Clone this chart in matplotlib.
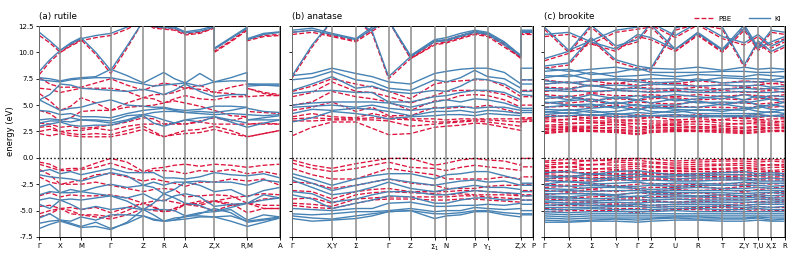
import matplotlib
matplotlib.use("Agg")
import matplotlib.pyplot as plt
from matplotlib.lines import Line2D

# ---------------- rutile ----------------
rutile_k = [0, 10.5, 21, 31.4, 41.7, 56.5, 71.4, 87.7, 104, 114.2, 124.4, 135.2,
            146, 160.5, 175, 175, 191.5, 208, 208, 224.4, 240.7]
rutile_ticks = [0, 21, 41.7, 71.4, 104, 124.4, 146, 175, 208, 240.7]
rutile_labels = ["Γ", "X", "M", "Γ", "Z", "R", "A", "Z,X", "R,M", "A"]

rutile_ki = [
    [11.9, 11.1, 10.2, 10.8, 11.3, 11.6, 11.8, 12.4, 13.0, 12.45, 12.35, 12.3, 11.85, 12.0, 12.4, 10.3, 11.3, 12.3, 11.2, 11.7, 11.9],
    [8.2, 9.3, 10.2, 10.9, 11.4, 10.0, 8.3, 10.6, 13.0, 12.6, 12.45, 12.4, 11.95, 12.15, 12.5, 10.4, 11.4, 12.4, 11.3, 11.8, 11.95],
    [7.6, 7.5, 7.3, 7.5, 7.6, 7.7, 8.4, 7.8, 7.1, 7.6, 8.1, 7.5, 7.1, 8.0, 7.2, 7.2, 7.6, 8.1, 7.0, 7.0, 7.0],
    [7.4, 7.3, 7.2, 7.4, 7.5, 7.6, 7.6, 7.3, 7.0, 6.8, 6.9, 7.0, 7.1, 6.8, 7.2, 7.2, 7.3, 7.3, 7.0, 6.9, 6.9],
    [5.5, 6.0, 7.0, 6.9, 6.6, 6.5, 6.4, 6.3, 6.5, 6.3, 6.0, 6.4, 7.0, 6.3, 5.8, 5.8, 6.0, 6.0, 6.8, 6.9, 6.8],
    [5.5, 5.0, 4.5, 4.7, 4.8, 5.2, 5.5, 5.0, 4.9, 4.8, 4.8, 4.6, 4.5, 4.6, 4.9, 4.9, 4.9, 4.8, 4.7, 4.4, 4.3],
    [4.5, 4.4, 4.1, 4.2, 3.9, 3.9, 3.8, 4.2, 4.5, 4.6, 4.7, 4.5, 4.3, 4.4, 4.3, 4.3, 4.5, 4.8, 4.1, 4.0, 4.1],
    [3.6, 3.7, 3.6, 3.8, 3.6, 3.6, 3.5, 4.0, 4.1, 4.3, 4.4, 4.4, 4.3, 4.2, 4.1, 4.1, 4.2, 4.1, 3.6, 3.8, 4.0],
    [3.3, 3.5, 3.5, 3.4, 3.6, 3.5, 3.3, 3.6, 4.1, 3.9, 3.6, 3.3, 3.6, 3.8, 3.9, 3.9, 3.6, 3.3, 3.6, 3.6, 3.6],
    [3.0, 3.2, 3.4, 3.1, 3.0, 3.1, 3.1, 3.5, 4.0, 3.3, 3.0, 3.3, 3.6, 3.4, 3.9, 3.9, 3.4, 2.9, 2.9, 3.3, 3.6],
    [-1.3, -1.1, -1.5, -1.3, -1.6, -1.3, -1.0, -1.4, -1.4, -1.4, -1.9, -1.9, -2.0, -1.8, -1.4, -1.4, -1.6, -1.7, -1.7, -1.5, -1.9],
    [-1.6, -1.8, -1.9, -2.0, -2.2, -1.8, -1.4, -1.7, -2.6, -2.3, -2.6, -2.3, -2.3, -2.2, -2.3, -2.3, -2.3, -2.6, -2.6, -2.1, -2.3],
    [-2.8, -2.5, -3.3, -3.0, -3.2, -2.8, -2.5, -2.8, -2.6, -2.8, -3.4, -3.0, -2.3, -2.6, -3.2, -3.2, -3.0, -3.7, -3.7, -3.1, -2.8],
    [-3.5, -3.2, -3.3, -3.3, -3.2, -3.4, -3.6, -3.8, -3.4, -3.9, -4.1, -3.6, -3.4, -3.7, -4.6, -4.6, -4.4, -4.3, -4.3, -3.5, -3.8],
    [-4.0, -3.8, -4.0, -3.9, -4.0, -3.8, -3.6, -4.1, -4.9, -4.3, -3.4, -3.8, -4.3, -4.5, -5.1, -5.1, -4.7, -4.3, -4.3, -4.0, -3.8],
    [-4.4, -4.8, -4.0, -4.4, -4.9, -4.6, -4.9, -4.7, -4.9, -4.9, -4.9, -5.0, -5.5, -5.2, -5.1, -5.1, -4.9, -5.9, -5.9, -5.4, -5.6],
    [-5.7, -5.3, -5.9, -6.0, -5.6, -5.9, -5.4, -5.4, -5.5, -5.8, -6.0, -5.9, -5.5, -5.5, -5.6, -5.6, -5.5, -6.0, -6.0, -5.8, -5.6],
    [-6.2, -6.0, -5.9, -6.2, -6.5, -6.1, -6.7, -6.2, -5.5, -5.9, -6.0, -5.9, -5.8, -5.6, -5.6, -5.6, -6.0, -6.5, -6.5, -6.1, -5.7],
    [-6.7, -6.3, -6.0, -6.3, -6.6, -6.5, -6.8, -6.1, -4.9, -5.4, -6.0, -5.7, -5.6, -5.3, -4.8, -4.8, -5.2, -6.1, -6.1, -5.9, -5.7],
]
rutile_pbe = [
    [11.6, 10.9, 10.0, 10.6, 11.1, 11.4, 11.6, 12.2, 13.0, 12.3, 12.2, 12.1, 11.65, 11.8, 12.3, 10.0, 11.0, 12.1, 11.1, 11.5, 11.6],
    [7.9, 9.1, 10.0, 10.7, 11.2, 9.8, 8.0, 10.4, 13.0, 12.4, 12.3, 12.2, 11.75, 11.9, 12.35, 10.1, 11.1, 12.2, 11.2, 11.6, 11.7],
    [7.6, 7.0, 6.7, 6.7, 6.7, 7.1, 7.5, 6.9, 6.4, 6.8, 7.1, 6.9, 6.6, 6.9, 6.2, 6.2, 6.7, 7.0, 6.6, 6.1, 5.9],
    [6.6, 6.5, 6.2, 6.4, 6.6, 6.6, 6.6, 6.3, 5.7, 6.0, 6.0, 6.2, 6.6, 6.5, 6.2, 6.2, 6.1, 5.9, 6.6, 6.2, 6.0],
    [6.1, 5.4, 4.5, 4.9, 5.7, 5.2, 4.5, 5.2, 5.7, 5.6, 5.2, 5.6, 5.9, 5.6, 5.5, 5.5, 5.8, 5.8, 5.8, 5.9, 5.9],
    [4.5, 4.2, 3.5, 3.8, 4.4, 4.5, 4.5, 4.8, 4.9, 5.0, 5.2, 5.4, 5.2, 4.9, 4.5, 4.5, 4.0, 3.9, 4.4, 4.3, 4.2],
    [3.3, 3.2, 2.9, 3.0, 2.8, 2.9, 3.1, 3.4, 3.8, 3.7, 3.2, 3.3, 3.2, 3.5, 3.8, 3.8, 3.5, 3.9, 3.2, 3.3, 3.2],
    [2.9, 3.0, 2.5, 2.6, 2.6, 2.8, 2.6, 3.0, 3.2, 3.2, 3.2, 3.2, 3.2, 3.4, 3.2, 3.2, 3.2, 3.2, 3.2, 3.2, 3.2],
    [2.5, 2.7, 2.5, 2.3, 2.2, 2.3, 2.2, 2.6, 3.0, 2.5, 2.0, 2.3, 2.6, 2.7, 3.0, 3.0, 2.6, 2.0, 2.0, 2.3, 2.6],
    [2.3, 2.1, 2.3, 2.1, 2.0, 2.0, 2.0, 2.3, 2.7, 2.3, 2.0, 2.2, 2.3, 2.4, 2.7, 2.7, 2.3, 2.0, 2.0, 2.3, 2.6],
    [-0.4, -0.6, -1.1, -1.0, -1.0, -0.5, -0.05, -0.4, -1.3, -1.0, -0.9, -0.7, -0.6, -0.8, -0.6, -0.6, -0.7, -0.9, -0.9, -0.7, -0.6],
    [-0.6, -0.9, -1.2, -1.2, -1.1, -0.9, -0.5, -1.0, -1.4, -1.2, -1.2, -1.3, -1.5, -1.2, -1.3, -1.3, -1.1, -1.5, -1.5, -1.3, -1.6],
    [-1.1, -1.6, -2.5, -2.3, -2.1, -1.6, -1.5, -1.8, -2.2, -2.0, -2.2, -2.4, -2.7, -2.3, -2.3, -2.3, -2.0, -2.2, -2.2, -2.0, -2.6],
    [-1.8, -2.3, -2.5, -2.5, -2.5, -2.3, -2.6, -2.9, -3.2, -3.0, -2.9, -3.0, -3.7, -3.6, -3.5, -3.5, -3.6, -4.3, -4.3, -3.9, -3.8],
    [-3.6, -3.3, -3.7, -3.5, -3.6, -3.6, -3.5, -3.8, -4.3, -4.1, -4.0, -4.2, -4.4, -4.1, -4.1, -4.1, -4.3, -5.2, -5.2, -4.8, -4.8],
    [-4.6, -4.5, -4.8, -4.7, -4.9, -4.7, -5.2, -4.7, -4.3, -4.6, -5.1, -4.8, -4.4, -4.5, -4.1, -4.1, -4.5, -4.3, -4.3, -4.5, -4.5],
    [-5.3, -5.0, -4.8, -5.0, -5.4, -5.4, -5.6, -5.0, -4.3, -4.7, -5.1, -5.0, -4.4, -4.3, -4.1, -4.1, -3.8, -3.6, -3.6, -3.4, -3.5],
    [-5.6, -5.3, -4.8, -5.3, -5.4, -5.6, -5.8, -5.4, -4.8, -5.0, -5.1, -4.8, -4.4, -4.6, -5.0, -5.0, -4.5, -4.3, -4.3, -4.8, -4.8],
]

# ---------------- anatase ----------------
anatase_k = [0, 19.8, 39.7, 63.7, 80, 96.4, 118.4, 142.4, 154.4, 168.5, 182.7, 195.7, 212.3, 229, 229, 241]
anatase_ticks = [0, 39.7, 63.7, 96.4, 118.4, 142.4, 154.4, 182.7, 195.7, 229, 241]
anatase_labels = ["Γ", "X,Y", "Σ", "Γ", "Z", "Σ$_1$", "N", "P", "Y$_1$", "Z,X", "P"]

anatase_ki = [
    [12.1, 12.3, 11.8, 11.3, 12.4, 13.0, 9.7, 11.2, 11.4, 11.8, 12.1, 11.9, 11.0, 9.7, 12.1, 12.1],
    [11.9, 12.1, 11.7, 11.2, 12.2, 13.0, 9.6, 11.1, 11.2, 11.6, 12.0, 11.8, 10.9, 9.6, 12.0, 12.0],
    [7.8, 10.7, 13.0, 13.0, 12.0, 7.7, 9.6, 11.0, 11.1, 11.5, 11.9, 11.7, 10.7, 9.7, 11.9, 11.9],
    [7.8, 8.0, 8.5, 8.0, 7.7, 7.2, 7.0, 8.0, 8.2, 8.4, 8.5, 8.5, 8.1, 7.0, 8.5, 8.5],
    [7.4, 7.6, 8.2, 7.4, 7.2, 6.6, 6.4, 7.4, 7.2, 7.6, 8.3, 7.7, 7.5, 6.6, 7.4, 7.4],
    [6.4, 7.0, 7.7, 6.6, 6.8, 6.3, 6.1, 6.4, 6.3, 6.8, 7.5, 7.4, 7.0, 6.1, 7.0, 7.0],
    [6.1, 6.3, 6.4, 6.2, 6.2, 5.3, 5.3, 5.8, 5.9, 6.2, 6.4, 6.4, 6.2, 5.5, 6.3, 6.3],
    [5.0, 5.2, 5.3, 5.3, 5.3, 5.2, 4.8, 5.3, 5.5, 5.3, 5.6, 5.5, 5.2, 4.7, 6.0, 5.9],
    [4.8, 4.9, 5.0, 4.8, 5.0, 4.7, 4.5, 4.7, 4.8, 4.9, 4.7, 4.8, 4.8, 4.5, 4.7, 4.7],
    [4.2, 4.6, 4.5, 4.7, 4.6, 4.4, 4.0, 4.4, 4.4, 4.5, 4.3, 4.5, 4.4, 4.2, 4.5, 4.5],
    [3.4, 3.8, 4.4, 4.2, 4.0, 3.7, 3.9, 4.0, 4.1, 4.1, 4.0, 4.2, 4.1, 4.0, 4.3, 4.3],
    [-1.5, -2.0, -2.6, -2.0, -1.7, -1.5, -1.5, -2.0, -1.6, -1.5, -1.3, -1.3, -1.7, -2.1, -2.4, -2.4],
    [-1.8, -2.4, -3.1, -2.6, -2.3, -2.0, -2.3, -2.6, -2.4, -2.2, -2.1, -2.3, -2.2, -2.6, -2.6, -2.6],
    [-2.1, -2.8, -3.5, -3.2, -2.8, -2.3, -2.9, -3.2, -3.0, -2.8, -2.6, -2.8, -2.8, -3.0, -3.2, -3.2],
    [-3.2, -3.4, -4.2, -3.9, -3.5, -3.2, -3.2, -3.5, -3.5, -3.3, -3.1, -3.2, -3.3, -3.4, -3.6, -3.6],
    [-3.5, -3.9, -4.8, -4.3, -4.0, -3.6, -3.7, -4.3, -4.3, -4.0, -3.8, -3.8, -4.0, -3.9, -4.0, -4.0],
    [-4.8, -4.9, -5.0, -4.8, -4.8, -4.3, -4.2, -4.6, -4.6, -4.5, -4.5, -4.4, -4.5, -4.3, -4.4, -4.4],
    [-5.3, -5.4, -5.3, -5.1, -5.1, -5.0, -4.8, -5.1, -5.0, -5.0, -4.7, -4.8, -4.9, -4.8, -5.0, -5.0],
    [-5.5, -5.7, -5.8, -5.5, -5.3, -5.1, -5.0, -5.3, -5.3, -5.2, -5.0, -5.0, -5.2, -5.3, -5.3, -5.3],
    [-5.75, -6.0, -5.9, -5.75, -5.5, -5.1, -5.0, -5.75, -5.5, -5.4, -5.1, -5.1, -5.4, -5.6, -5.4, -5.4],
]
anatase_pbe = [
    [11.9, 12.1, 11.6, 11.1, 12.2, 13.0, 9.5, 11.0, 11.2, 11.6, 11.9, 11.7, 10.8, 9.5, 11.9, 11.9],
    [11.7, 11.9, 11.5, 11.0, 12.0, 13.0, 9.4, 10.8, 11.0, 11.4, 11.8, 11.6, 10.7, 9.4, 11.8, 11.8],
    [7.6, 10.5, 13.0, 13.0, 11.8, 7.5, 9.4, 10.7, 10.9, 11.3, 11.7, 11.5, 10.5, 9.5, 11.7, 11.7],
    [6.3, 6.8, 7.5, 7.0, 6.7, 6.3, 5.6, 7.0, 7.2, 7.3, 7.4, 7.4, 6.8, 5.8, 7.4, 7.4],
    [5.8, 6.2, 7.2, 6.3, 6.2, 5.8, 5.2, 5.9, 6.3, 6.4, 6.4, 6.3, 6.0, 5.3, 6.4, 6.4],
    [5.0, 5.3, 6.3, 5.8, 5.6, 5.3, 4.5, 5.4, 5.5, 5.9, 6.0, 5.9, 5.5, 4.8, 5.8, 5.8],
    [4.5, 4.8, 5.3, 4.4, 4.8, 4.0, 4.0, 4.8, 4.7, 4.8, 4.8, 5.0, 4.6, 4.2, 5.0, 5.0],
    [3.9, 4.2, 3.9, 3.8, 4.2, 3.9, 3.7, 3.7, 3.6, 3.7, 3.7, 3.7, 3.7, 3.7, 3.8, 3.8],
    [3.7, 3.8, 3.7, 3.7, 3.8, 3.7, 3.6, 3.4, 3.4, 3.5, 3.6, 3.6, 3.5, 3.4, 3.7, 3.7],
    [3.5, 3.5, 3.6, 3.6, 3.6, 3.5, 3.0, 3.2, 3.3, 3.4, 3.5, 3.4, 3.2, 3.0, 3.6, 3.6],
    [2.1, 2.9, 3.4, 3.4, 2.8, 2.2, 2.3, 2.9, 3.0, 3.1, 3.3, 3.2, 2.9, 2.6, 3.4, 3.5],
    [-0.2, -0.7, -1.0, -0.55, -0.3, -0.05, -0.05, -0.7, -0.5, -0.2, -0.05, -0.2, -0.3, -0.7, -0.05, -0.05],
    [-0.5, -1.0, -1.3, -1.0, -0.7, -0.4, -0.9, -1.0, -1.2, -0.9, -0.7, -0.85, -1.0, -1.2, -0.85, -0.85],
    [-1.0, -1.6, -2.0, -2.0, -1.5, -1.0, -1.3, -1.6, -2.0, -2.0, -2.0, -2.0, -1.8, -2.0, -1.8, -1.8],
    [-2.3, -2.4, -2.9, -2.6, -2.3, -2.0, -2.4, -2.6, -2.9, -2.9, -2.9, -2.7, -2.6, -2.6, -2.5, -2.5],
    [-3.1, -3.2, -3.9, -3.2, -3.0, -2.9, -3.2, -3.2, -3.2, -3.1, -3.1, -3.2, -3.3, -3.5, -3.1, -3.1],
    [-3.9, -3.8, -4.3, -3.5, -3.3, -3.2, -3.3, -3.4, -3.5, -3.4, -3.5, -3.5, -3.5, -3.6, -3.5, -3.5],
    [-4.3, -4.4, -4.6, -3.9, -3.8, -3.7, -3.7, -3.7, -3.7, -3.6, -3.6, -3.7, -3.8, -3.9, -3.6, -3.6],
    [-4.5, -4.7, -4.8, -4.3, -4.0, -3.9, -3.9, -4.0, -4.0, -3.9, -3.9, -4.0, -4.1, -4.2, -4.0, -4.0],
]

# ---------------- brookite ----------------
brookite_k = [0, 24.4, 46.7, 71.4, 93.4, 106.7, 131, 153.4, 178, 200, 213.7, 227, 240.7]
brookite_ticks = brookite_k
brookite_labels = ["Γ", "X", "Σ", "Y", "Γ", "Z", "U", "R", "T", "Z,Y", "T,U", "X,Σ", "R"]

brookite_ki = [
    [12.4, 10.2, 11.1, 12.1, 12.4, 12.6, 10.3, 11.9, 10.3, 12.6, 10.5, 12.1, 11.9],
    [11.7, 11.9, 11.0, 10.3, 11.7, 11.4, 10.3, 11.8, 10.2, 12.3, 10.4, 11.0, 11.5],
    [9.4, 10.1, 12.6, 10.6, 11.2, 12.8, 11.6, 12.8, 11.5, 10.9, 11.7, 10.6, 11.2],
    [8.7, 9.0, 11.4, 9.3, 8.7, 8.5, 12.3, 12.9, 12.4, 8.8, 11.1, 10.1, 10.7],
    [8.5, 8.2, 8.4, 8.6, 8.3, 8.5, 8.4, 8.6, 8.3, 8.6, 8.4, 8.5, 8.4],
    [8.2, 8.4, 7.9, 8.1, 8.5, 8.1, 8.1, 8.1, 8.2, 8.2, 8.1, 8.1, 8.2],
    [7.8, 7.7, 8.1, 7.7, 7.8, 7.9, 7.7, 7.9, 7.8, 7.7, 7.9, 7.8, 7.7],
    [7.6, 7.9, 7.4, 7.5, 7.4, 7.5, 7.5, 7.3, 7.6, 7.5, 7.5, 7.4, 7.6],
    [7.3, 7.1, 7.3, 7.4, 7.2, 7.1, 7.2, 7.5, 7.1, 7.2, 7.2, 7.3, 7.2],
    [7.0, 7.2, 6.8, 6.9, 6.8, 7.0, 6.9, 6.8, 6.9, 6.8, 6.9, 6.7, 6.8],
    [6.6, 6.5, 6.9, 6.5, 6.6, 6.5, 6.6, 6.4, 6.5, 6.6, 6.5, 6.6, 6.5],
    [6.4, 6.3, 6.3, 6.4, 6.3, 6.2, 6.3, 6.2, 6.2, 6.3, 6.2, 6.2, 6.3],
    [5.9, 5.5, 6.0, 5.6, 5.9, 5.7, 6.0, 5.8, 5.6, 6.0, 5.7, 5.9, 5.8],
    [5.6, 5.9, 5.3, 5.8, 5.5, 5.9, 5.4, 5.6, 5.9, 5.5, 5.9, 5.5, 5.6],
    [5.2, 5.4, 5.6, 5.1, 5.5, 5.2, 5.6, 5.2, 5.3, 5.2, 5.4, 5.6, 5.2],
    [5.3, 5.0, 4.9, 5.3, 4.9, 5.0, 5.0, 5.4, 5.0, 5.4, 5.0, 4.9, 5.3],
    [4.8, 5.0, 5.1, 4.7, 5.1, 4.7, 4.8, 4.8, 5.1, 4.8, 4.7, 5.1, 4.8],
    [4.6, 4.5, 4.7, 4.9, 4.5, 4.9, 4.6, 4.5, 4.6, 4.5, 4.9, 4.6, 4.5],
    [4.3, 4.6, 4.3, 4.4, 4.7, 4.4, 4.3, 4.6, 4.4, 4.7, 4.4, 4.3, 4.6],
    [4.4, 4.2, 4.5, 4.1, 4.3, 4.2, 4.5, 4.2, 4.2, 4.2, 4.2, 4.4, 4.2],
    [4.1, 4.3, 4.0, 4.2, 4.0, 4.0, 4.1, 4.0, 4.0, 4.0, 4.1, 4.0, 4.1],
    [3.9, 4.0, 4.1, 3.9, 3.9, 4.0, 3.9, 3.9, 3.9, 3.9, 3.9, 4.0, 3.9],
    [-1.4, -1.3, -1.6, -1.3, -1.2, -1.4, -1.6, -1.5, -1.4, -1.3, -1.5, -1.4, -1.5],
    [-1.7, -1.8, -1.5, -1.7, -1.5, -1.8, -1.7, -1.7, -1.6, -1.6, -1.7, -1.6, -1.7],
    [-2.0, -1.7, -2.0, -1.9, -1.8, -1.7, -2.0, -1.9, -1.9, -1.9, -2.0, -1.9, -2.0],
    [-2.1, -2.3, -2.3, -2.0, -2.2, -2.1, -2.2, -2.2, -2.1, -2.1, -2.2, -2.2, -2.2],
    [-2.5, -2.2, -2.5, -2.4, -2.3, -2.5, -2.4, -2.4, -2.5, -2.3, -2.4, -2.4, -2.4],
    [-2.6, -2.7, -2.6, -2.7, -2.7, -2.6, -2.7, -2.6, -2.6, -2.6, -2.6, -2.7, -2.6],
    [-2.9, -3.0, -2.8, -2.8, -2.9, -3.0, -2.9, -2.8, -2.9, -2.9, -2.8, -2.9, -2.9],
    [-3.2, -3.1, -3.2, -3.1, -3.1, -3.2, -3.1, -3.1, -3.1, -3.1, -3.1, -3.1, -3.1],
    [-3.4, -3.4, -3.4, -3.5, -3.3, -3.3, -3.3, -3.3, -3.3, -3.4, -3.3, -3.3, -3.3],
    [-3.6, -3.7, -3.5, -3.6, -3.7, -3.5, -3.5, -3.6, -3.5, -3.6, -3.5, -3.6, -3.5],
    [-3.8, -3.8, -3.9, -3.8, -3.6, -3.8, -3.7, -3.7, -3.8, -3.8, -3.7, -3.8, -3.8],
    [-4.1, -4.0, -4.1, -4.0, -4.0, -4.0, -3.9, -4.0, -4.0, -4.0, -3.9, -4.0, -4.0],
    [-4.2, -4.3, -4.3, -4.2, -4.3, -4.2, -4.2, -4.2, -4.2, -4.2, -4.2, -4.2, -4.2],
    [-4.5, -4.4, -4.5, -4.5, -4.4, -4.5, -4.4, -4.4, -4.4, -4.5, -4.4, -4.4, -4.4],
    [-4.7, -4.7, -4.7, -4.6, -4.6, -4.7, -4.6, -4.6, -4.6, -4.7, -4.6, -4.7, -4.6],
    [-4.9, -4.9, -4.8, -4.9, -4.9, -4.9, -4.8, -4.8, -4.9, -4.9, -4.8, -4.9, -4.9],
    [-5.1, -5.2, -5.1, -5.1, -5.1, -5.1, -5.0, -5.1, -5.1, -5.1, -5.1, -5.1, -5.1],
    [-5.3, -5.4, -5.3, -5.3, -5.3, -5.3, -5.3, -5.3, -5.3, -5.3, -5.3, -5.3, -5.3],
    [-5.5, -5.6, -5.5, -5.5, -5.5, -5.5, -5.5, -5.5, -5.5, -5.5, -5.5, -5.5, -5.5],
    [-5.7, -5.8, -5.7, -5.7, -5.7, -5.7, -5.6, -5.6, -5.7, -5.7, -5.6, -5.7, -5.7],
    [-5.9, -6.0, -5.9, -5.8, -5.9, -5.8, -5.7, -5.8, -5.8, -5.8, -5.7, -5.9, -5.8],
    [-6.1, -6.1, -6.0, -6.0, -6.1, -6.0, -5.9, -5.9, -6.0, -6.0, -5.9, -6.0, -6.0],
]
brookite_pbe = [
    [12.2, 10.0, 10.8, 11.9, 12.2, 12.4, 10.1, 11.7, 10.1, 12.4, 10.3, 11.9, 11.7],
    [11.5, 11.7, 10.8, 10.1, 11.5, 11.2, 10.1, 11.6, 10.0, 12.1, 10.2, 10.8, 11.3],
    [9.2, 9.9, 12.4, 10.4, 11.0, 12.6, 11.4, 12.6, 11.3, 10.7, 11.5, 10.4, 11.0],
    [8.5, 8.8, 11.2, 9.1, 8.5, 8.3, 12.1, 12.7, 12.2, 8.6, 10.9, 9.9, 10.5],
    [7.4, 7.1, 7.3, 7.0, 7.4, 7.2, 7.0, 7.3, 7.1, 7.3, 7.2, 7.0, 7.2],
    [7.0, 7.2, 6.8, 7.1, 6.9, 6.9, 7.1, 6.8, 6.9, 6.8, 6.9, 7.1, 6.9],
    [6.7, 6.6, 6.9, 6.5, 6.7, 6.6, 6.5, 6.7, 6.5, 6.7, 6.6, 6.5, 6.6],
    [6.3, 6.5, 6.2, 6.4, 6.3, 6.3, 6.4, 6.2, 6.4, 6.2, 6.3, 6.4, 6.2],
    [6.0, 5.8, 6.1, 5.9, 5.9, 6.0, 5.8, 6.0, 5.8, 6.0, 5.9, 5.8, 6.0],
    [5.6, 5.8, 5.5, 5.6, 5.5, 5.6, 5.7, 5.5, 5.6, 5.5, 5.6, 5.7, 5.5],
    [5.2, 5.2, 5.4, 5.1, 5.3, 5.2, 5.1, 5.3, 5.2, 5.2, 5.1, 5.2, 5.3],
    [4.8, 4.9, 4.8, 5.0, 4.7, 4.8, 4.9, 4.8, 4.8, 4.7, 4.9, 4.8, 4.9],
    [4.1, 3.9, 4.1, 3.8, 4.1, 4.0, 3.9, 4.1, 3.9, 4.0, 4.1, 3.9, 4.1],
    [3.8, 4.0, 3.7, 4.0, 3.8, 3.8, 4.1, 3.8, 4.0, 3.7, 3.8, 4.0, 3.8],
    [3.7, 3.6, 3.9, 3.6, 3.6, 3.9, 3.6, 3.7, 3.6, 3.9, 3.6, 3.7, 3.7],
    [3.4, 3.7, 3.5, 3.5, 3.5, 3.5, 3.5, 3.4, 3.6, 3.5, 3.5, 3.5, 3.4],
    [3.5, 3.3, 3.3, 3.4, 3.2, 3.3, 3.3, 3.5, 3.3, 3.2, 3.4, 3.3, 3.5],
    [3.1, 3.2, 3.4, 3.1, 3.3, 3.1, 3.2, 3.2, 3.1, 3.3, 3.2, 3.2, 3.2],
    [3.0, 3.0, 3.0, 3.2, 2.9, 3.0, 3.1, 2.9, 3.0, 2.9, 3.0, 3.1, 3.0],
    [2.8, 2.9, 2.8, 2.9, 2.8, 2.9, 2.8, 3.0, 2.8, 2.8, 2.9, 2.8, 2.9],
    [2.7, 2.7, 2.9, 2.7, 2.6, 2.8, 2.9, 2.8, 2.7, 2.6, 2.7, 2.9, 2.8],
    [2.5, 2.8, 2.6, 2.6, 2.5, 2.6, 2.7, 2.6, 2.6, 2.5, 2.7, 2.6, 2.6],
    [2.4, 2.6, 2.6, 2.5, 2.3, 2.5, 2.6, 2.6, 2.5, 2.4, 2.5, 2.6, 2.6],
    [2.3, 2.5, 2.5, 2.4, 2.2, 2.4, 2.5, 2.5, 2.4, 2.3, 2.4, 2.5, 2.5],
    [-0.3, -0.15, -0.3, -0.1, -0.05, -0.1, -0.3, -0.2, -0.15, -0.1, -0.2, -0.15, -0.2],
    [-0.4, -0.5, -0.2, -0.3, -0.2, -0.4, -0.5, -0.4, -0.3, -0.3, -0.4, -0.3, -0.4],
    [-0.7, -0.5, -0.7, -0.4, -0.5, -0.5, -0.7, -0.6, -0.6, -0.5, -0.6, -0.7, -0.6],
    [-0.8, -0.9, -0.6, -0.7, -0.6, -0.8, -0.9, -0.8, -0.7, -0.7, -0.8, -0.6, -0.8],
    [-1.0, -0.8, -1.1, -0.9, -0.8, -0.9, -1.0, -1.0, -1.0, -0.9, -1.0, -0.9, -0.9],
    [-1.2, -1.2, -1.0, -1.1, -1.0, -1.2, -1.2, -1.1, -1.1, -1.0, -1.1, -1.2, -1.1],
    [-1.3, -1.4, -1.4, -1.2, -1.3, -1.3, -1.3, -1.3, -1.3, -1.2, -1.3, -1.3, -1.3],
    [-1.5, -1.3, -1.5, -1.5, -1.4, -1.5, -1.5, -1.5, -1.4, -1.4, -1.5, -1.4, -1.5],
    [-1.6, -1.7, -1.7, -1.6, -1.6, -1.6, -1.6, -1.6, -1.6, -1.6, -1.6, -1.6, -1.6],
    [-1.8, -1.8, -1.9, -1.8, -1.7, -1.8, -1.8, -1.7, -1.8, -1.7, -1.8, -1.8, -1.8],
    [-2.0, -1.9, -2.0, -2.0, -1.9, -2.0, -2.0, -1.9, -1.9, -1.9, -2.0, -1.9, -2.0],
    [-2.2, -2.1, -2.2, -2.1, -2.1, -2.1, -2.1, -2.1, -2.1, -2.0, -2.1, -2.1, -2.1],
    [-2.5, -2.6, -2.4, -2.7, -2.5, -2.4, -2.6, -2.5, -2.4, -2.5, -2.4, -2.5, -2.4],
    [-2.8, -2.7, -3.0, -2.6, -2.9, -2.8, -2.8, -2.7, -2.9, -2.7, -2.8, -2.9, -2.7],
    [-3.1, -3.2, -3.0, -3.2, -3.0, -3.2, -3.0, -3.1, -3.0, -3.2, -3.0, -3.1, -3.2],
    [-3.5, -3.3, -3.4, -3.5, -3.3, -3.4, -3.4, -3.3, -3.5, -3.3, -3.5, -3.3, -3.4],
    [-3.7, -3.8, -3.7, -3.6, -3.8, -3.7, -3.6, -3.7, -3.6, -3.7, -3.6, -3.8, -3.6],
    [-3.9, -4.0, -4.1, -3.9, -3.9, -4.0, -3.9, -3.9, -3.9, -4.0, -3.9, -3.9, -4.0],
    [-4.3, -4.2, -4.2, -4.3, -4.2, -4.1, -4.2, -4.1, -4.2, -4.3, -4.1, -4.2, -4.1],
    [-4.5, -4.5, -4.5, -4.4, -4.6, -4.5, -4.4, -4.4, -4.5, -4.5, -4.4, -4.4, -4.4],
    [-4.8, -4.7, -4.7, -4.8, -4.8, -4.7, -4.6, -4.7, -4.7, -4.8, -4.6, -4.7, -4.7],
    [-5.1, -5.0, -5.0, -5.0, -5.2, -5.0, -4.9, -4.9, -5.0, -5.1, -4.9, -5.0, -5.0],
]

titles = ["(a) rutile", "(b) anatase", "(c) brookite"]
y_ticks = [-7.5, -5.0, -2.5, 0.0, 2.5, 5.0, 7.5, 10.0, 12.5]

PBE_COLOR = "#dc143c"
KI_COLOR = "#4682b4"

plt.rcParams["font.family"] = ["DejaVu Sans"]
fig = plt.figure(figsize=(7.93, 2.64), dpi=100)
lefts = [0.0496, 0.3686, 0.6864]
panels = [
    (rutile_k, rutile_ticks, rutile_labels, rutile_pbe, rutile_ki),
    (anatase_k, anatase_ticks, anatase_labels, anatase_pbe, anatase_ki),
    (brookite_k, brookite_ticks, brookite_labels, brookite_pbe, brookite_ki),
]
axes = []
for i, (k, ticks, labels, pbe, ki) in enumerate(panels):
    ax = fig.add_axes([lefts[i], 0.1023, 0.3035, 0.7992])
    axes.append(ax)
    for band in pbe:
        ax.plot(k, band, color=PBE_COLOR, ls="--", lw=0.95, zorder=2)
    for band in ki:
        ax.plot(k, band, color=KI_COLOR, ls="-", lw=1.0, zorder=2.5)
    for t in ticks:
        ax.axvline(t, color="#8c8c8c", lw=1.1, zorder=3)
    ax.axhline(0, color="black", ls=":", lw=1.0, zorder=4)
    ax.set_xlim(k[0], k[-1])
    ax.set_ylim(-7.5, 12.5)
    ax.set_xticks(ticks)
    ax.set_xticklabels(labels)
    ax.set_yticks(y_ticks)
    ax.tick_params(labelsize=5, length=2.5, width=0.6, pad=1.5)
    if i == 0:
        ax.set_yticklabels([f"{v:.1f}" for v in y_ticks])
        ax.set_ylabel("energy (eV)", fontsize=6, labelpad=2)
    else:
        ax.tick_params(labelleft=False)
    ax.set_title(titles[i], loc="left", fontsize=6.3, pad=5)
    for s in ax.spines.values():
        s.set_linewidth(0.7)

handles = [Line2D([], [], color=PBE_COLOR, ls="--", lw=0.95),
           Line2D([], [], color=KI_COLOR, ls="-", lw=1.0)]
axes[2].legend(handles, ["PBE", "KI"], loc="lower right", bbox_to_anchor=(1.0, 1.0),
               ncol=2, frameon=False, fontsize=5, handlelength=3.0,
               columnspacing=2.5, borderaxespad=0.2, handletextpad=0.6)

fig.savefig("out.png", dpi=100)
